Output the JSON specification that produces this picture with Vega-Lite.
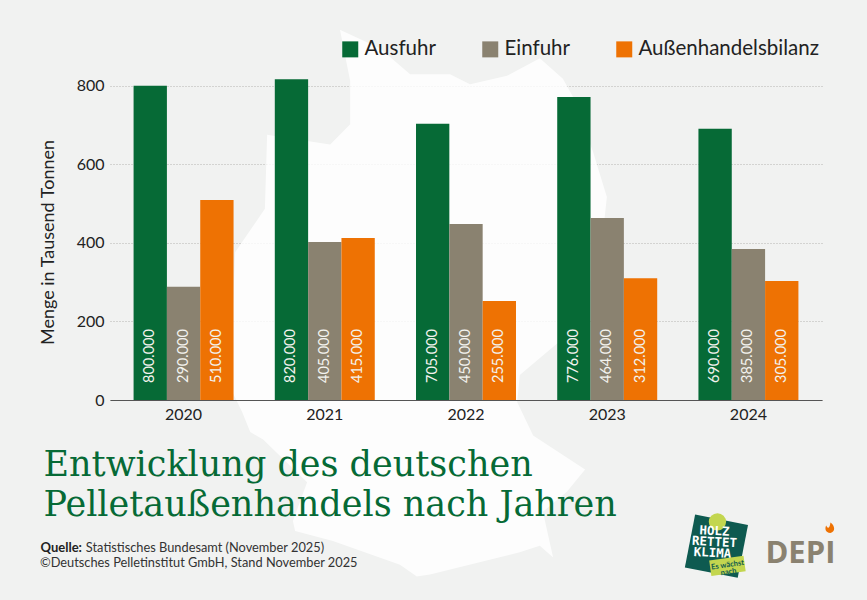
{"$schema":"https://vega.github.io/schema/vega-lite/v6.json","width":712,"height":334,"autosize":"none","padding":{"left":110,"top":66,"right":45,"bottom":200},"background":"#f1f2f1","config":{"view":{"stroke":null},"font":"Lato"},
"title":{"text":["\u200b\u200aEntwicklung des deutschen","\u200b\u200aPelletaußenhandels nach Jahren"],"subtitle":["\u200b\u00a0\u00a0\u00a0\u00a0\u00a0\u00a0\u00a0\u00a0\u00a0\u00a0\u00a0\u00a0\u00a0\u00a0Statistisches Bundesamt (November 2025)","©Deutsches Pelletinstitut GmbH, Stand November 2025"],"orient":"bottom","anchor":"start","frame":"group","dx":-70,"offset":-130,"font":"DejaVu Serif","fontSize":35,"fontWeight":"normal","color":"#066a36","lineHeight":40,"subtitleFont":"Lato","subtitleFontSize":12.8,"subtitleColor":"#333333","subtitleLineHeight":15,"subtitlePadding":19},
"layer":[
{"data":{"values":{"type":"Feature","properties":{},"geometry":{"type":"Polygon","coordinates":[[[8.40,55.0],[9.30,54.76],[9.98,54.42],[10.88,54.42],[11.33,54.29],[12.16,54.40],[12.90,54.63],[13.42,54.36],[13.65,54.12],[14.10,53.39],[14.41,52.78],[14.25,51.88],[13.35,50.77],[12.45,50.29],[12.39,49.90],[12.75,49.41],[13.92,48.91],[13.51,48.58],[12.97,48.28],[13.20,47.59],[12.90,47.77],[12.45,47.67],[10.43,47.33],[10.13,47.30],[9.75,47.48],[8.24,47.84],[7.39,47.99],[7.34,48.14],[7.66,48.72],[6.67,49.35],[6.38,49.46],[6.20,49.75],[5.92,50.12],[6.04,52.02],[6.71,52.62],[6.76,53.62],[8.18,53.49],[8.63,53.76],[8.63,54.33],[8.40,55.0]]]}},"format":{"type":"json"}},"mark":{"type":"geoshape","fill":"#ffffff","fillOpacity":0.82,"stroke":null,"clip":false},"projection":{"type":"mercator","center":[10.45,51.2],"scale":2545,"translate":[321,245]}},
{"data":{"name":"d","values":[
{"jahr":"2020","art":"Ausfuhr","menge":800,"label":"800.000"},{"jahr":"2020","art":"Einfuhr","menge":288,"label":"290.000"},{"jahr":"2020","art":"Außenhandelsbilanz","menge":509,"label":"510.000"},
{"jahr":"2021","art":"Ausfuhr","menge":816,"label":"820.000"},{"jahr":"2021","art":"Einfuhr","menge":402,"label":"405.000"},{"jahr":"2021","art":"Außenhandelsbilanz","menge":412,"label":"415.000"},
{"jahr":"2022","art":"Ausfuhr","menge":703,"label":"705.000"},{"jahr":"2022","art":"Einfuhr","menge":448,"label":"450.000"},{"jahr":"2022","art":"Außenhandelsbilanz","menge":252,"label":"255.000"},
{"jahr":"2023","art":"Ausfuhr","menge":771,"label":"776.000"},{"jahr":"2023","art":"Einfuhr","menge":463,"label":"464.000"},{"jahr":"2023","art":"Außenhandelsbilanz","menge":310,"label":"312.000"},
{"jahr":"2024","art":"Ausfuhr","menge":690,"label":"690.000"},{"jahr":"2024","art":"Einfuhr","menge":384,"label":"385.000"},{"jahr":"2024","art":"Außenhandelsbilanz","menge":303,"label":"305.000"}]},
"mark":{"type":"bar"},
"encoding":{
"x":{"field":"jahr","type":"nominal","scale":{"paddingInner":0.292,"paddingOuter":0.167},"axis":{"zindex":1,"labelAngle":0,"labelFontSize":16,"labelColor":"#222222","labelPadding":6,"ticks":false,"domainColor":"#555555","domainWidth":1,"title":"Quelle:","titleFontSize":13,"titleFontWeight":"bold","titleColor":"#222222","titleX":-70,"titleY":151,"titleAlign":"left","titleBaseline":"alphabetic","titleAnchor":"start"}},
"xOffset":{"field":"art","type":"nominal","sort":["Ausfuhr","Einfuhr","Außenhandelsbilanz"],"scale":{"paddingInner":0,"paddingOuter":0}},
"y":{"field":"menge","type":"quantitative","scale":{"domain":[0,850],"nice":false},"axis":{"values":[0,200,400,600,800],"title":"Menge in Tausend Tonnen","titleFontSize":18,"titleFontWeight":"normal","titleColor":"#222222","titleX":-53,"titleY":176,"labelFontSize":16,"labelColor":"#222222","labelPadding":6,"ticks":false,"domain":false,"grid":true,"gridColor":"#b5b5b0","gridDash":[1,2],"gridWidth":1}},
"color":{"field":"art","type":"nominal","sort":["Ausfuhr","Einfuhr","Außenhandelsbilanz"],"scale":{"domain":["Ausfuhr","Einfuhr","Außenhandelsbilanz"],"range":["#066a36","#8a8270","#ee7203"]},"legend":{"orient":"none","legendX":230,"legendY":-27,"direction":"horizontal","columns":3,"title":null,"symbolType":"square","symbolSize":256,"symbolStrokeWidth":0,"symbolOpacity":1,"labelFontSize":20.5,"labelLimit":300,"labelColor":"#222222","labelOffset":4,"columnPadding":44,"padding":0}}}},
{"data":{"name":"d"},"mark":{"type":"text","angle":270,"align":"left","baseline":"middle","dx":17,"fontSize":14.5,"fill":"#f3f3ee"},
"encoding":{"x":{"field":"jahr","type":"nominal"},"xOffset":{"field":"art","type":"nominal","sort":["Ausfuhr","Einfuhr","Außenhandelsbilanz"]},"y":{"datum":0,"type":"quantitative"},"text":{"field":"label"}}},
{"data":{"values":[{"logo":"Holz rettet Klima"}]},"mark":{"type":"point","shape":"square","filled":true,"size":2900,"angle":11,"fill":"#0e5a50","opacity":1,"xOffset":-32},"encoding":{"x":{"datum":"2024"},"y":{"datum":-372,"type":"quantitative"}}},
{"data":{"values":[{"t":"tree"}]},"mark":{"type":"point","shape":"circle","filled":true,"size":300,"fill":"#c3d64f","opacity":1,"xOffset":-31},"encoding":{"x":{"datum":"2024"},"y":{"datum":-310,"type":"quantitative"}}},
{"data":{"values":[{"t":"HOLZ"}]},"mark":{"type":"text","font":"DejaVu Sans Mono","fontWeight":"bold","fontSize":12.5,"fill":"#ffffff","angle":3,"align":"center","baseline":"middle","dx":-34},"encoding":{"x":{"datum":"2024"},"y":{"datum":-338,"type":"quantitative"},"text":{"field":"t"}}},
{"data":{"values":[{"t":"RETTET"}]},"mark":{"type":"text","font":"DejaVu Sans Mono","fontWeight":"bold","fontSize":12.5,"fill":"#ffffff","angle":3,"align":"center","baseline":"middle","dx":-34},"encoding":{"x":{"datum":"2024"},"y":{"datum":-366,"type":"quantitative"},"text":{"field":"t"}}},
{"data":{"values":[{"t":"KLIMA"}]},"mark":{"type":"text","font":"DejaVu Sans Mono","fontWeight":"bold","fontSize":12.5,"fill":"#ffffff","angle":3,"align":"center","baseline":"middle","dx":-36},"encoding":{"x":{"datum":"2024"},"y":{"datum":-394,"type":"quantitative"},"text":{"field":"t"}}},
{"data":{"values":[{"t":"badge"}]},"mark":{"type":"point","shape":"M-1,-0.45H1V0.45H-1Z","filled":true,"size":1200,"angle":-8,"fill":"#c3d64f","opacity":1,"xOffset":-21},"encoding":{"x":{"datum":"2024"},"y":{"datum":-422,"type":"quantitative"}}},
{"data":{"values":[{"t":"Es wächst"}]},"mark":{"type":"text","fontWeight":"bold","fontSize":7.5,"fill":"#0e5a50","angle":-8,"align":"center","baseline":"middle","dx":-21},"encoding":{"x":{"datum":"2024"},"y":{"datum":-413,"type":"quantitative"},"text":{"field":"t"}}},
{"data":{"values":[{"t":"nach"}]},"mark":{"type":"text","fontWeight":"bold","fontSize":7.5,"fill":"#0e5a50","angle":-8,"align":"center","baseline":"middle","dx":-20},"encoding":{"x":{"datum":"2024"},"y":{"datum":-431,"type":"quantitative"},"text":{"field":"t"}}},
{"data":{"values":[{"t":"DEPI"}]},"mark":{"type":"text","font":"Open Sans","fontWeight":"bold","fontSize":31,"fill":"#8a8270","align":"center","baseline":"alphabetic","dx":52},"encoding":{"x":{"datum":"2024"},"y":{"datum":-415,"type":"quantitative"},"text":{"field":"t"}}},
{"data":{"values":[{"t":"flame"}]},"mark":{"type":"point","shape":"M0,-1C0.9,-0.4 1,0.8 0,1C-1,1 -1.1,0.1 -0.8,-0.4C-0.6,0.2 -0.1,0.2 0,-1Z","filled":true,"size":110,"fill":"#ee7203","opacity":1,"xOffset":82},"encoding":{"x":{"datum":"2024"},"y":{"datum":-325,"type":"quantitative"}}}
]}
